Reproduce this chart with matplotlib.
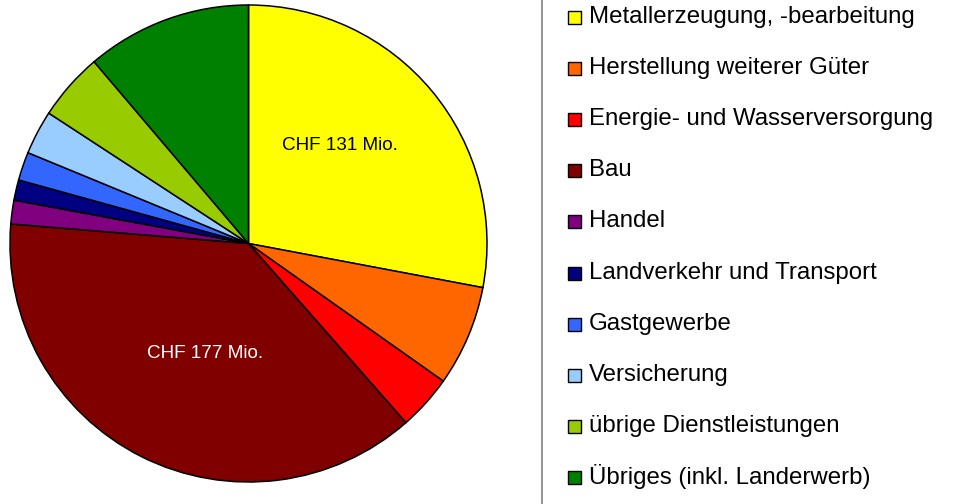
import matplotlib
matplotlib.use("Agg")
import matplotlib.pyplot as plt
from matplotlib.patches import Rectangle
from matplotlib.lines import Line2D

# --- data (CHF Mio.) ---
categories = [
    "Metallerzeugung, -bearbeitung",
    "Herstellung weiterer Güter",
    "Energie- und Wasserversorgung",
    "Bau",
    "Handel",
    "Landverkehr und Transport",
    "Gastgewerbe",
    "Versicherung",
    "übrige Dienstleistungen",
    "Übriges (inkl. Landerwerb)",
]
values = [131, 32, 17.5, 177, 7.5, 6.5, 9, 14, 21.5, 52.5]
colors = ["#FFFF00", "#FF6600", "#FF0000", "#800000", "#800080",
          "#000080", "#3366FF", "#99CCFF", "#99CC00", "#008000"]
labels = ["CHF 131 Mio.", "", "", "CHF 177 Mio.", "", "", "", "", "", ""]
label_colors = ["black", "black", "black", "white"] + ["black"] * 6

plt.rcParams['font.family'] = ['Liberation Sans', 'DejaVu Sans']

W, H = 955, 504
fig = plt.figure(figsize=(W / 100, H / 100), dpi=100)

# pie axes: centre ~ (249, 244) px, radius ~238 px
r_px = 238.5
cx, cy = 248.5, 243.5
ax = fig.add_axes([(cx - r_px) / W, (H - cy - r_px) / H, 2 * r_px / W, 2 * r_px / H])
wedges, texts = ax.pie(values, colors=colors, startangle=90, counterclock=False,
                       radius=1.0, labels=labels, labeldistance=0.5,
                       wedgeprops=dict(edgecolor="black", linewidth=1.1))
for t, c in zip(texts, label_colors):
    t.set_color(c)
    t.set_fontsize(13.6)
ax.set_xlim(-1.0, 1.0)
ax.set_ylim(-1.0, 1.0)
ax.set_aspect("equal")
ax.axis("off")

# move labels to where they sit in the original
texts[0].set_position(((340 - cx) / r_px, (cy - 145) / r_px))
texts[0].set_ha("center")
texts[3].set_position(((205 - cx) / r_px, (cy - 353) / r_px))
texts[3].set_ha("center")

# separator line
fig.add_artist(Line2D([541.5 / W, 541.5 / W], [0, 1], color="#808080", lw=1.2))

# legend drawn by hand
row0 = 17
step = 51.1
for i, (name, col) in enumerate(zip(categories, colors)):
    y = row0 + i * step
    fig.add_artist(Rectangle((568 / W, (H - y - 7) / H), 13 / W, 13 / H,
                             facecolor=col, edgecolor="black", lw=1.0,
                             transform=fig.transFigure))
    fig.text(589 / W, (H - y) / H, name, fontsize=17.3, va="center", ha="left")

fig.savefig("out.png", dpi=100)
